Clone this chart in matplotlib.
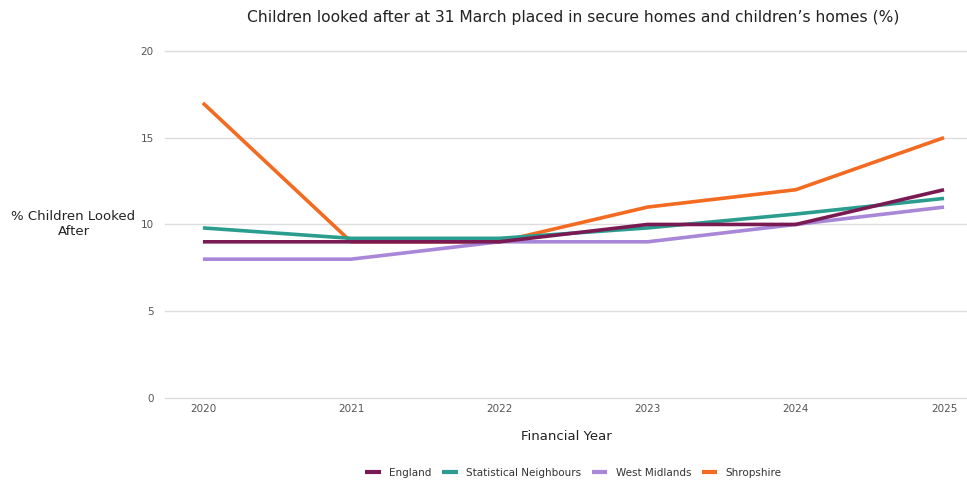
import matplotlib.pyplot as plt

years = [2020, 2021, 2022, 2023, 2024, 2025]
england = [9, 9, 9, 10, 10, 12]
stat_neighbours = [9.8, 9.2, 9.2, 9.8, 10.6, 11.5]
west_midlands = [8, 8, 9, 9, 10, 11]
shropshire = [17, 9, 9, 11, 12, 15]

series = [
    ('England', england, '#7a1a52'),
    ('Statistical Neighbours', stat_neighbours, '#2a9d8f'),
    ('West Midlands', west_midlands, '#a886d8'),
    ('Shropshire', shropshire, '#f26b21'),
]

fig = plt.figure(figsize=(9.67, 4.8), dpi=100)
ax = fig.add_axes([0.1706, 0.1708, 0.8294, 0.7232])

n = len(series)
for i, (name, vals, col) in enumerate(series):
    ax.plot(years, vals, color=col, linewidth=2.6, label=name, zorder=10 + n - i,
            solid_capstyle='butt')

ax.set_xlim(2019.744, 2025.155)
ax.set_ylim(0, 20)
ax.set_yticks([0, 5, 10, 15, 20])
ax.set_xticks(years)
ax.set_xticklabels([str(y) for y in years])
ax.grid(axis='y', color='#dddddd', linewidth=1)
for gl in ax.get_ygridlines():
    gl.set_clip_on(False)
ax.set_axisbelow(True)
for s in ax.spines.values():
    s.set_visible(False)
ax.tick_params(axis='both', length=0, labelsize=7.5, labelcolor='#555555')
ax.tick_params(axis='x', pad=4)
ax.tick_params(axis='y', pad=8)

ax.set_xlabel('Financial Year', fontsize=9.5, color='#222222', labelpad=12)
ax.set_ylabel('% Children Looked\nAfter', fontsize=9.5, color='#222222',
              rotation=0, ha='center', va='center')
ax.yaxis.set_label_coords(-0.114, 0.5)

fig.text(0.593, 0.963, 'Children looked after at 31 March placed in secure homes and children\u2019s homes (%)',
         ha='center', va='center', fontsize=11.2, color='#222222')

leg = fig.legend(loc='center', bbox_to_anchor=(0.593, 0.015), ncol=4, frameon=False,
                 fontsize=7.5, handlelength=1.5, columnspacing=1.0, handletextpad=0.8,
                 labelcolor='#333333')
for line in leg.get_lines():
    line.set_linewidth(3)

fig.savefig('out.png', dpi=100)
